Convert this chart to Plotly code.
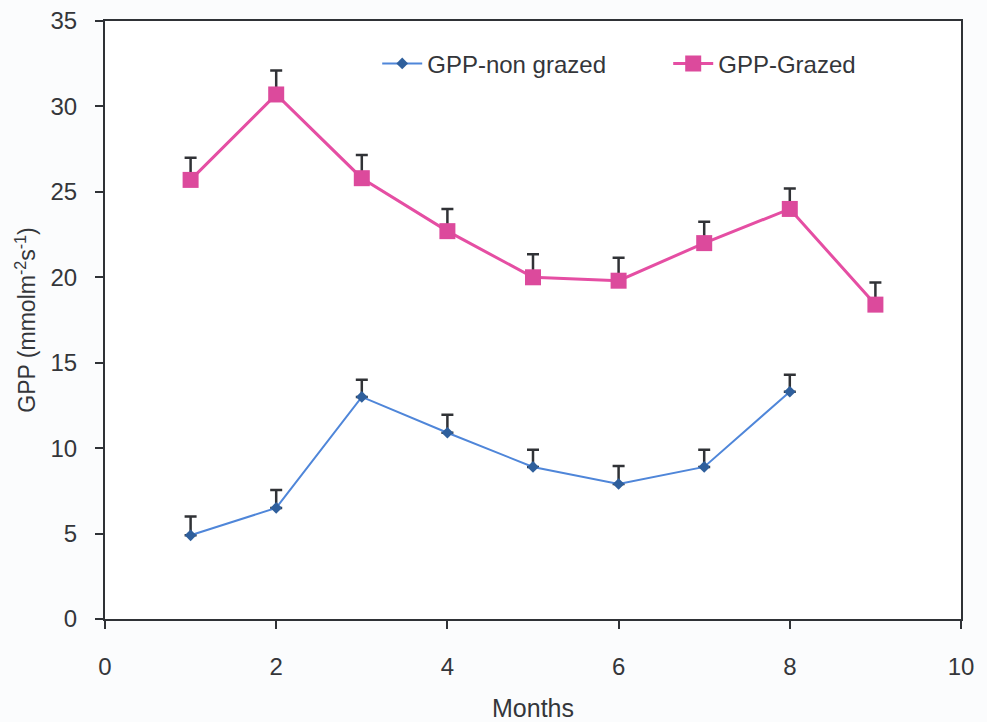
import plotly.graph_objects as go

# Monthly gross primary production, mean and upper error
months_grazed = [1, 2, 3, 4, 5, 6, 7, 8, 9]
gpp_grazed = [25.7, 30.7, 25.8, 22.7, 20.0, 19.8, 22.0, 24.0, 18.4]
err_grazed = [1.3, 1.4, 1.35, 1.3, 1.35, 1.35, 1.25, 1.2, 1.3]

months_non = [1, 2, 3, 4, 5, 6, 7, 8]
gpp_non = [4.9, 6.5, 13.0, 10.9, 8.9, 7.9, 8.9, 13.3]
err_non = [1.1, 1.05, 1.0, 1.05, 1.0, 1.05, 1.0, 1.0]

x_ticks = [0, 2, 4, 6, 8, 10]
y_ticks = [0, 5, 10, 15, 20, 25, 30, 35]

FONT = "Liberation Sans, Arial, sans-serif"
AXIS = "#2f3236"
TEXT = "#34363a"

fig = go.Figure()

fig.add_trace(go.Scatter(
    x=months_non, y=gpp_non, name="GPP-non grazed",
    mode="lines+markers",
    line=dict(color="#4f86d9", width=2),
    marker=dict(symbol="diamond", size=9, color="#2f5f9c"),
    error_y=dict(type="data", array=err_non, symmetric=False,
                 arrayminus=[0] * len(err_non),
                 color="#303236", thickness=2.5, width=6),
))

fig.add_trace(go.Scatter(
    x=months_grazed, y=gpp_grazed, name="GPP-Grazed",
    mode="lines+markers",
    line=dict(color="#e54ea3", width=3),
    marker=dict(symbol="square", size=16, color="#dc4a9c"),
    error_y=dict(type="data", array=err_grazed, symmetric=False,
                 arrayminus=[0] * len(err_grazed),
                 color="#303236", thickness=2.5, width=6),
))

fig.update_layout(
    width=987, height=722,
    margin=dict(l=105, r=26, t=21, b=103),
    paper_bgcolor="#fbfcfd",
    plot_bgcolor="#ffffff",
    font=dict(family=FONT, color=TEXT, size=24),
    showlegend=True,
    legend=dict(
        orientation="h", x=0.318, y=0.966, xanchor="left", yanchor="top",
        bgcolor="rgba(0,0,0,0)", font=dict(size=24, family=FONT, color=TEXT),
        itemwidth=40, entrywidth=236, entrywidthmode="pixels",
        traceorder="normal",
    ),
    xaxis=dict(
        range=[0, 10], tickvals=x_ticks, ticktext=[str(v) for v in x_ticks],
        showgrid=False, zeroline=False, automargin=False,
        showline=True, linecolor=AXIS, linewidth=2, mirror=True,
        ticks="outside", ticklen=8, tickwidth=1.5, tickcolor=AXIS,
        ticklabelstandoff=17,
        tickfont=dict(size=24, family=FONT, color=TEXT),
        title=dict(text="Months", font=dict(size=25, family=FONT, color=TEXT),
                   standoff=21),
    ),
    yaxis=dict(
        range=[0, 35], tickvals=y_ticks, ticktext=[str(v) for v in y_ticks],
        showgrid=False, zeroline=False, automargin=False,
        showline=True, linecolor=AXIS, linewidth=2, mirror=True,
        ticks="outside", ticklen=8, tickwidth=1.5, tickcolor=AXIS,
        ticklabelstandoff=13,
        tickfont=dict(size=24, family=FONT, color=TEXT),
        title=dict(text="GPP (mmolm<sup>-2</sup>s<sup>-1</sup>)",
                   font=dict(size=23, family=FONT, color=TEXT),
                   standoff=8),
    ),
)

fig.write_html("out.html")
